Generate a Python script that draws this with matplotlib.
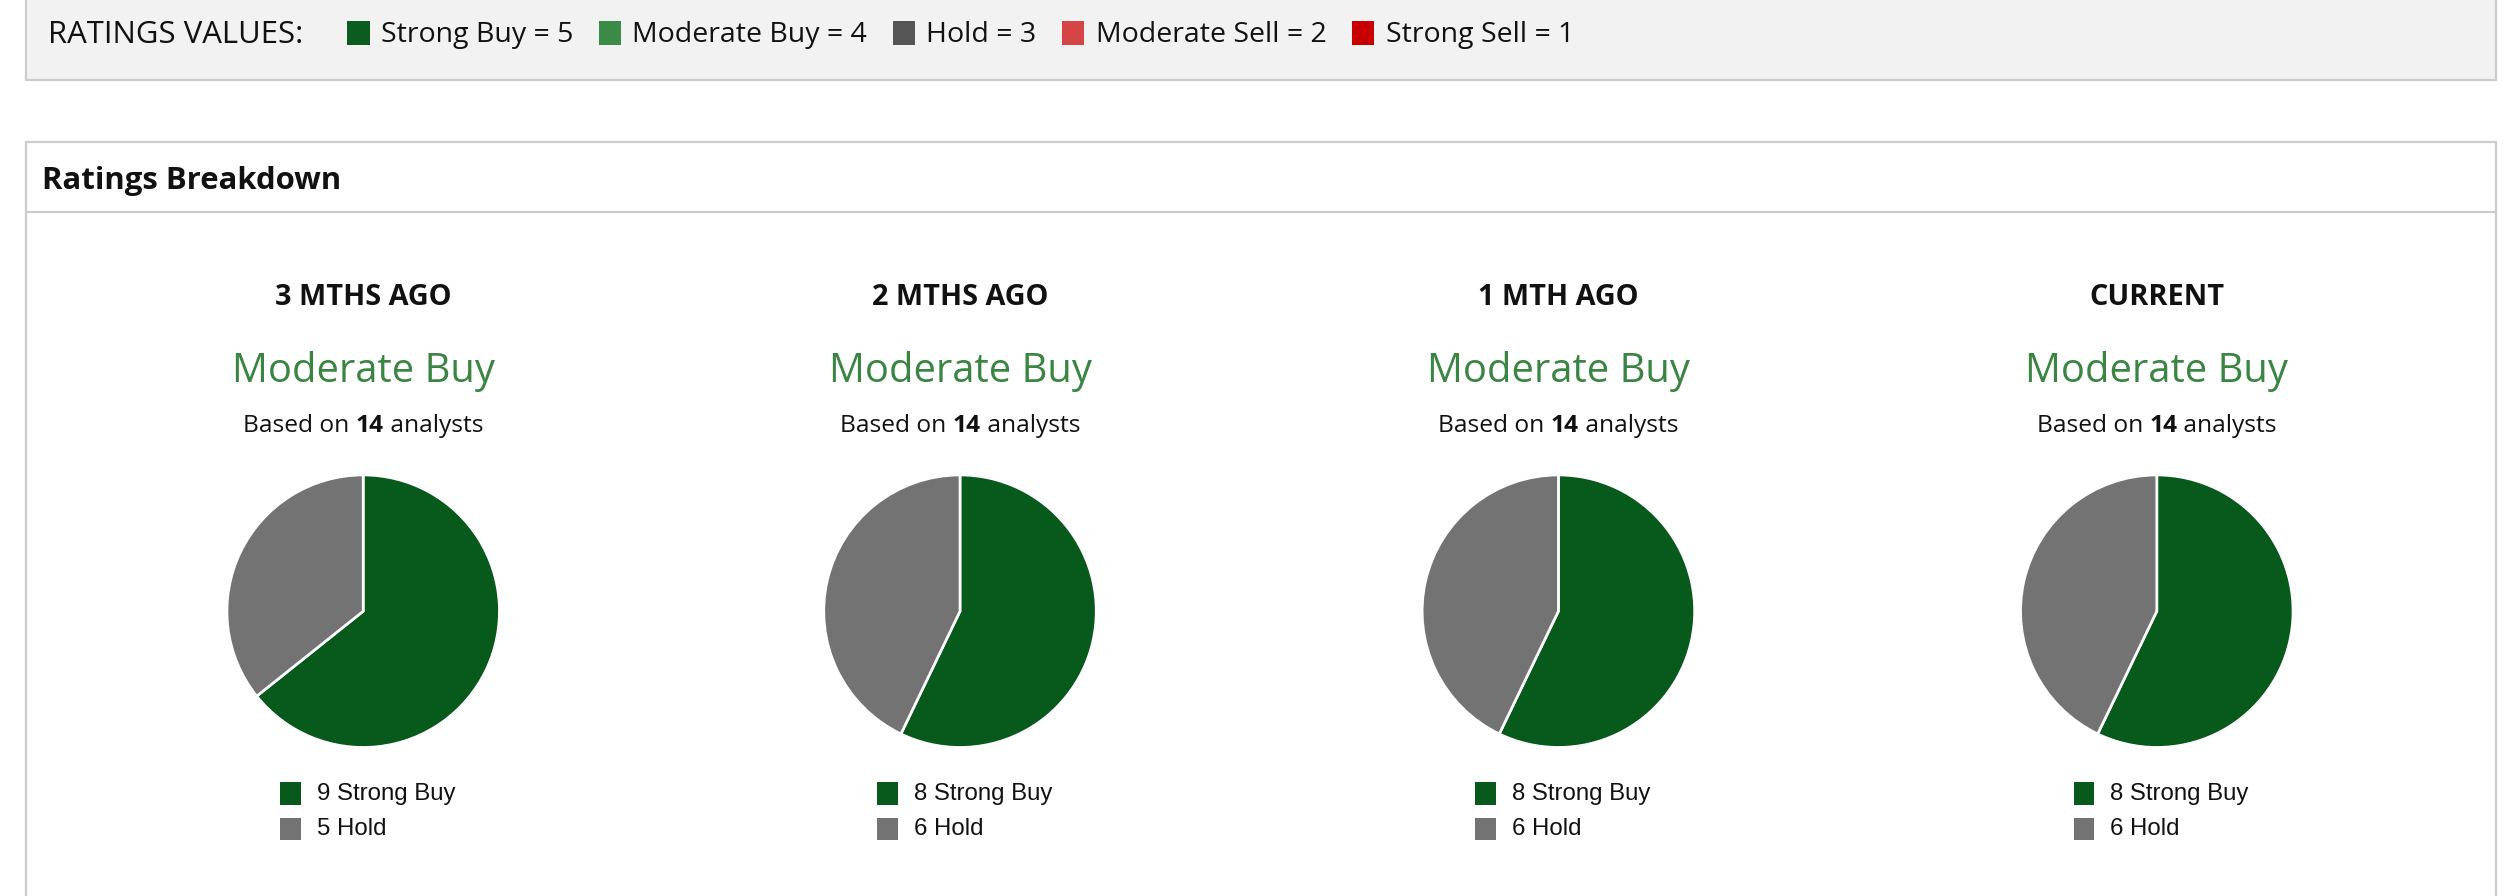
import matplotlib
matplotlib.use('Agg')
import matplotlib.pyplot as plt
from matplotlib.patches import Rectangle

# data
periods = ['3 MTHS AGO', '2 MTHS AGO', '1 MTH AGO', 'CURRENT']
consensus = ['Moderate Buy', 'Moderate Buy', 'Moderate Buy', 'Moderate Buy']
analysts = [14, 14, 14, 14]
strong_buy = [9, 8, 8, 8]
hold = [5, 6, 6, 6]

rating_names = ['Strong Buy', 'Moderate Buy', 'Hold', 'Moderate Sell', 'Strong Sell']
rating_values = [5, 4, 3, 2, 1]
rating_colors = ['#0b5c1f', '#3b8a45', '#555555', '#d64545', '#c80000']

SB_COLOR = '#07591c'
HOLD_COLOR = '#737373'
GREEN_TXT = '#3b8543'
BORDER = '#cccccc'

W, H = 1568, 560
plt.rcParams['font.family'] = ['Open Sans', 'DejaVu Sans']

fig = plt.figure(figsize=(15.68, 5.6), dpi=160)
fig.patch.set_facecolor('white')
rend = fig.canvas.get_renderer()


def fx(x):
    return x / W


def fy(y):
    return 1 - y / H


def box(x, y, w, h, fc, ec=None, lw=0, z=-1):
    r = Rectangle((fx(x), fy(y + h)), w / W, h / H, transform=fig.transFigure,
                  facecolor=fc, edgecolor=ec if ec else 'none', linewidth=lw, zorder=z)
    fig.patches.append(r)


def text_width(t):
    bb = t.get_window_extent(renderer=rend)
    return bb.width / (fig.dpi / 100.0)


# ratings values strip
box(16, -10, 1544, 60, '#f2f2f2', BORDER, 1.0)
fig.text(fx(30), fy(22), 'RATINGS VALUES:', fontsize=14, va='center', color='#111111')
x = 217
for name, val, col in zip(rating_names, rating_values, rating_colors):
    box(x, 13, 14, 15, col, z=2)
    t = fig.text(fx(x + 21), fy(22), f'{name} = {val}', fontsize=12.8, va='center', color='#111111')
    x = x + 21 + text_width(t) + 16

# breakdown panel
box(16, 89, 1544, 520, 'white', BORDER, 1.0)
fig.add_artist(plt.Line2D([fx(16), fx(1560)], [fy(132.5), fy(132.5)], transform=fig.transFigure,
                          color=BORDER, linewidth=1.0))
fig.text(fx(26), fy(113), 'Ratings Breakdown', fontsize=14, fontweight='bold', va='center', color='#111111')

centers = [227, 600, 974, 1348]
r = 86
for i, cx in enumerate(centers):
    fig.text(fx(cx), fy(186), periods[i], fontsize=13, fontweight='bold', ha='center', va='center', color='#111111')
    fig.text(fx(cx), fy(232), consensus[i], fontsize=18, ha='center', va='center', color=GREEN_TXT)

    # "Based on **14** analysts"
    parts = [('Based on ', 'normal'), (str(analysts[i]), 'bold'), (' analysts', 'normal')]
    tmp = [fig.text(0, 0, p, fontsize=11, fontweight=w) for p, w in parts]
    widths = [text_width(t) for t in tmp]
    for t in tmp:
        t.remove()
    xs = cx - sum(widths) / 2
    for (p, w), wd in zip(parts, widths):
        fig.text(fx(xs), fy(266), p, fontsize=11, fontweight=w, va='center', color='#111111')
        xs += wd

    ax = fig.add_axes([fx(cx - r), fy(382 + r), 2 * r / W, 2 * r / H])
    ax.set_zorder(1)
    ax.pie([strong_buy[i], hold[i]], colors=[SB_COLOR, HOLD_COLOR], startangle=90, counterclock=False,
           wedgeprops=dict(edgecolor='white', linewidth=1.2))
    ax.set_xlim(-1.01, 1.01)
    ax.set_ylim(-1.01, 1.01)
    ax.set_aspect('equal')
    ax.axis('off')

    labels = [f'{strong_buy[i]} Strong Buy', f'{hold[i]} Hold']
    for j, (lab, col) in enumerate(zip(labels, [SB_COLOR, HOLD_COLOR])):
        yy = 496 + 22 * j
        box(cx - 52, yy - 7, 13, 14, col, z=2)
        fig.text(fx(cx - 29), fy(yy), lab, fontsize=10.8, va='center', color='#111111',
                 family=['Liberation Sans', 'DejaVu Sans'])

fig.savefig('out.png', dpi=160)
